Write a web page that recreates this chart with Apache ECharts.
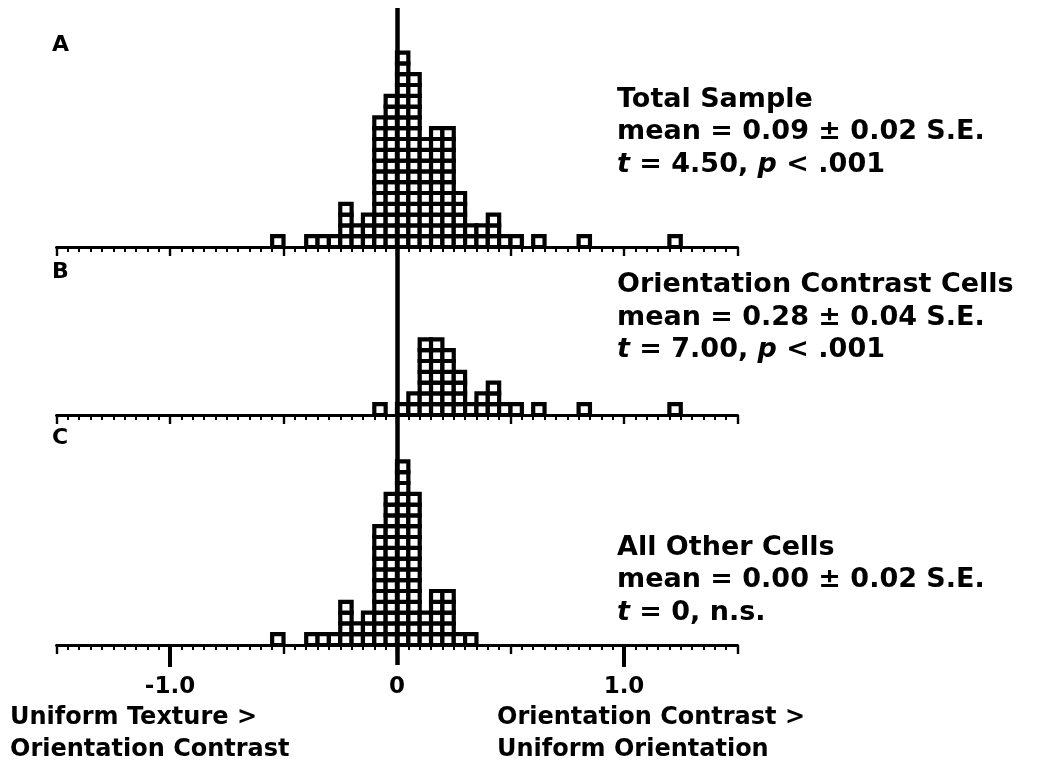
<!DOCTYPE html>
<html>
<head>
<meta charset="utf-8">
<script src="https://cdn.jsdelivr.net/npm/echarts@6/dist/echarts.min.js"></script>
<style>
  html, body { margin: 0; padding: 0; background: #fff; }
  #chart { width: 1057px; height: 775px; }
</style>
</head>
<body>
<div id="chart"></div>
<script>
// Left edges of the 0.05-wide bins (index difference scores)
const binLeft = [-0.55, -0.50, -0.45, -0.40, -0.35, -0.30, -0.25, -0.20, -0.15, -0.10,
                 -0.05, 0.00, 0.05, 0.10, 0.15, 0.20, 0.25, 0.30, 0.35, 0.40,
                 0.45, 0.50, 0.55, 0.60, 0.65, 0.70, 0.75, 0.80, 0.85, 0.90,
                 0.95, 1.00, 1.05, 1.10, 1.15, 1.20];
const binWidth = 0.05;

// Number of cells per bin
const countsTotal       = [1, 0, 0, 1, 1, 1, 4, 2, 3, 12, 14, 18, 16, 10, 11, 11, 5, 2, 2, 3, 1, 1, 0, 1, 0, 0, 0, 1, 0, 0, 0, 0, 0, 0, 0, 1];
const countsOrientation = [0, 0, 0, 0, 0, 0, 0, 0, 0, 1, 0, 1, 2, 7, 7, 6, 4, 1, 2, 3, 1, 1, 0, 1, 0, 0, 0, 1, 0, 0, 0, 0, 0, 0, 0, 1];
const countsOther       = [1, 0, 0, 1, 1, 1, 4, 2, 3, 11, 14, 17, 14, 3, 5, 5, 1, 1, 0, 0, 0, 0, 0, 0, 0, 0, 0, 0, 0, 0, 0, 0, 0, 0, 0, 0];

// Axis tick labels
const tickValues = [-1, 0, 1];
const tickLabels = ['-1.0', '0', '1.0'];

const panelLetters = ['A', 'B', 'C'];
const panelTitles = ['Total Sample', 'Orientation Contrast Cells', 'All Other Cells'];
const panelMeans = ['mean = 0.09 \u00b1 0.02 S.E.', 'mean = 0.28 \u00b1 0.04 S.E.', 'mean = 0.00 \u00b1 0.02 S.E.'];
const panelTests = ['{i|t} = 4.50, {i|p} < .001', '{i|t} = 7.00, {i|p} < .001', '{i|t} = 0, n.s.'];
const leftCaption = ['Uniform Texture >', 'Orientation Contrast'];
const rightCaption = ['Orientation Contrast >', 'Uniform Orientation'];

const FONT = '"DejaVu Sans", "Liberation Sans", Arial, sans-serif';
const chart = echarts.init(document.getElementById('chart'), null, { renderer: 'canvas' });

const plotLeft = 56.5, plotWidth = 681;
const baselines = [247, 415, 645];
const yMax = 20, unitPx = 10.8;

const grids = baselines.map(b => ({
  left: plotLeft, width: plotWidth, top: b - yMax * unitPx, height: yMax * unitPx
}));
grids.push({ left: plotLeft, width: plotWidth, top: 8, height: 657 });

function panelAxis(gridIndex) {
  return {
    type: 'value', gridIndex, min: -1.5, max: 1.5, interval: 0.5, position: 'bottom',
    axisLine: { show: true, onZero: false, lineStyle: { color: '#000', width: 2.8 } },
    axisTick: { show: true, inside: false, length: 9, lineStyle: { color: '#000', width: 2.4 } },
    minorTick: { show: true, splitNumber: 10, length: 5, lineStyle: { color: '#000', width: 2 } },
    axisLabel: { show: false },
    splitLine: { show: false }, minorSplitLine: { show: false }
  };
}

const xAxes = [panelAxis(0), panelAxis(1), panelAxis(2)];
// long ticks and labels at -1, 0, 1 under the bottom panel
xAxes.push({
  type: 'value', gridIndex: 2, min: -1.5, max: 1.5, interval: 0.5, position: 'bottom',
  axisLine: { show: false },
  axisTick: { show: true, inside: false, length: 22, customValues: [-1, 1], lineStyle: { color: '#000', width: 4 } },
  minorTick: { show: false },
  axisLabel: {
    show: true, customValues: tickValues, margin: 31,
    formatter: v => tickLabels[tickValues.indexOf(Math.round(v))] || '',
    color: '#000', fontFamily: FONT, fontWeight: 'bold', fontSize: 23
  },
  splitLine: { show: false }
});
// full-height axis carrying the zero reference line
xAxes.push({
  type: 'value', gridIndex: 3, min: -1.5, max: 1.5, show: false,
  splitLine: { show: false }
});

const yAxes = [0, 1, 2, 3].map(g => ({
  type: 'value', gridIndex: g, min: 0, max: yMax, show: false, splitLine: { show: false }
}));

function stackedSquares(params, api) {
  const x0 = api.value(0), n = api.value(1);
  const children = [];
  for (let k = 0; k < n; k++) {
    const p0 = api.coord([x0, k]);
    const p1 = api.coord([x0 + binWidth, k + 1]);
    children.push({
      type: 'rect',
      shape: { x: p0[0], y: p1[1], width: p1[0] - p0[0], height: p0[1] - p1[1] },
      style: { fill: '#fff', stroke: '#000', lineWidth: 4.2 }
    });
  }
  return { type: 'group', children };
}

const countSets = [countsTotal, countsOrientation, countsOther];
const series = countSets.map((counts, i) => ({
  type: 'custom', xAxisIndex: i, yAxisIndex: i, clip: false, z: 3,
  renderItem: stackedSquares,
  data: binLeft.map((b, j) => [b, counts[j]]).filter(d => d[1] > 0)
}));
series.push({
  type: 'line', xAxisIndex: 4, yAxisIndex: 3, data: [[0, 0]], symbol: 'none', z: 10,
  lineStyle: { opacity: 0 },
  markLine: {
    silent: true, symbol: 'none', label: { show: false }, z: 10,
    lineStyle: { color: '#000', width: 4.5, type: 'solid' },
    data: [{ xAxis: 0 }]
  }
});

const statSize = 27;
const textBase = { fill: '#000', fontFamily: FONT, fontWeight: 'bold', fontSize: statSize };
const graphics = [];
const letterY = [45, 272, 438];
panelLetters.forEach((L, i) => {
  graphics.push({ type: 'text', x: 52, y: letterY[i],
    style: Object.assign({}, textBase, { text: L, fontSize: 22, verticalAlign: 'middle' }) });
});
const statY = [[100, 132, 165], [285, 318, 350], [548, 580, 613]];
for (let i = 0; i < 3; i++) {
  graphics.push({ type: 'text', x: 617, y: statY[i][0],
    style: Object.assign({}, textBase, { text: panelTitles[i], verticalAlign: 'middle' }) });
  graphics.push({ type: 'text', x: 617, y: statY[i][1],
    style: Object.assign({}, textBase, { text: panelMeans[i], verticalAlign: 'middle' }) });
  graphics.push({ type: 'text', x: 617, y: statY[i][2],
    style: Object.assign({}, textBase, {
      text: panelTests[i], verticalAlign: 'middle',
      rich: { i: { fontStyle: 'italic', fontWeight: 'bold', fontFamily: FONT, fontSize: statSize, fill: '#000' } }
    }) });
}
const captionBase = Object.assign({}, textBase, { fontSize: 24, verticalAlign: 'middle' });
leftCaption.forEach((t, k) => {
  graphics.push({ type: 'text', x: 10, y: 718 + k * 32,
    style: Object.assign({}, captionBase, { text: t }) });
});
rightCaption.forEach((t, k) => {
  graphics.push({ type: 'text', x: 497, y: 718 + k * 32,
    style: Object.assign({}, captionBase, { text: t }) });
});

chart.setOption({
  animation: false,
  backgroundColor: '#fff',
  grid: grids,
  xAxis: xAxes,
  yAxis: yAxes,
  series,
  graphic: graphics
});
</script>
</body>
</html>
